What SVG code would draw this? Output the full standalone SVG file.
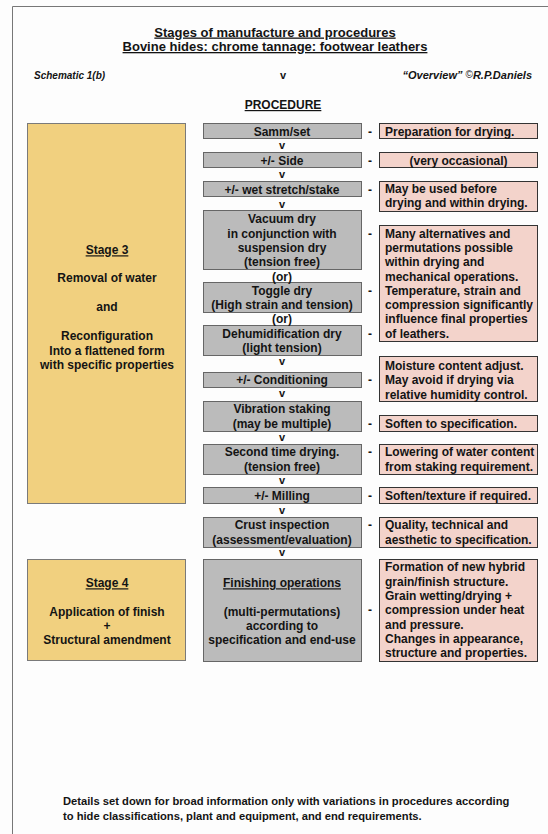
<svg xmlns="http://www.w3.org/2000/svg" width="548" height="834" viewBox="0 0 548 834">
<style>
text{font-family:"Liberation Sans",Arial,sans-serif;font-weight:bold;fill:#141414;font-size:12px}
.c{text-anchor:middle}
.g{fill:#bbbbbb;stroke:#666;stroke-width:1}
.p{fill:#f3d3cb;stroke:#333;stroke-width:1}
.y{fill:#f1d07f;stroke:#7a7a7a;stroke-width:1}
.u{text-decoration:underline}
.v{font-size:11px;text-anchor:middle}
.d{text-anchor:middle}
.h{font-size:10px;font-style:italic}
.f{font-size:11.2px}
</style>
<rect width="548" height="834" fill="#fdfdfd"/>
<path d="M12.5 834V6.5H548" fill="none" stroke="#777" stroke-width="1"/>

<g id="header">
<text class="c u" x="275" y="36.5" style="font-size:13px">Stages of manufacture and procedures</text>
<text class="c u" x="275" y="51" style="font-size:13px">Bovine hides: chrome tannage: footwear leathers</text>
<text class="h" x="34" y="78.5">Schematic 1(b)</text>
<text class="h" x="532" y="78.5" text-anchor="end" style="font-size:11px">“Overview”  <tspan style="font-weight:normal;font-style:normal;font-size:10px" dy="-1">©</tspan><tspan dy="1">R.P.Daniels</tspan></text>
<text class="c u" x="283" y="109">PROCEDURE</text>
</g>

<g id="stage3">
<rect class="y" x="27.5" y="123.5" width="158" height="380"/>
<text class="c u" x="107" y="254.3">Stage 3</text>
<text class="c" x="107" y="282.3">Removal of water</text>
<text class="c" x="107" y="311.3">and</text>
<text class="c" x="107" y="340.3">Reconfiguration</text>
<text class="c" x="107" y="354.6">Into a flattened form</text>
<text class="c" x="107" y="368.9">with specific properties</text>
</g>

<g id="stage4">
<rect class="y" x="27.5" y="559.5" width="158" height="101"/>
<text class="c u" x="107" y="587.3">Stage 4</text>
<text class="c" x="107" y="615.7">Application of finish</text>
<text class="c" x="107" y="630">+</text>
<text class="c" x="107" y="644.3">Structural amendment</text>
</g>

<g id="samm">
<rect class="g" x="203.5" y="123.5" width="158" height="15"/>
<text class="c" x="282" y="135.5">Samm/set</text>
</g>
<g id="samm-note">
<rect class="p" x="379.5" y="123.5" width="158" height="15"/>
<text x="385" y="135.5">Preparation for drying.</text>
</g>

<g id="side">
<rect class="g" x="203.5" y="152.5" width="158" height="15"/>
<text class="c" x="282" y="164.5">+/- Side</text>
</g>
<g id="side-note">
<rect class="p" x="379.5" y="152.5" width="158" height="15"/>
<text class="c" x="458.5" y="164.5">(very occasional)</text>
</g>

<g id="wet">
<rect class="g" x="203.5" y="181.5" width="158" height="15"/>
<text class="c" x="282" y="193.5">+/- wet stretch/stake</text>
</g>
<g id="wet-note">
<rect class="p" x="379.5" y="181.5" width="158" height="30"/>
<text x="385" y="192.5">May be used before</text>
<text x="385" y="206.5">drying and within drying.</text>
</g>

<g id="vacuum">
<rect class="g" x="203.5" y="210.5" width="158" height="59"/>
<text class="c" x="282" y="223.3">Vacuum dry</text>
<text class="c" x="282" y="237.6">in conjunction with</text>
<text class="c" x="282" y="251.9">suspension dry</text>
<text class="c" x="282" y="266.2">(tension free)</text>
</g>
<g id="toggle">
<rect class="g" x="203.5" y="282.5" width="158" height="30"/>
<text class="c" x="282" y="294.8">Toggle dry</text>
<text class="c" x="282" y="309.1">(High strain and tension)</text>
</g>
<g id="dehum">
<rect class="g" x="203.5" y="325.5" width="158" height="30"/>
<text class="c" x="282" y="337.7">Dehumidification dry</text>
<text class="c" x="282" y="352">(light tension)</text>
</g>
<g id="drying-note">
<rect class="p" x="379.5" y="225.5" width="158" height="116"/>
<text x="385" y="237.6">Many alternatives and</text>
<text x="385" y="251.9">permutations possible</text>
<text x="385" y="266.2">within drying and</text>
<text x="385" y="280.5">mechanical operations.</text>
<text x="385" y="294.8">Temperature, strain and</text>
<text x="385" y="309.1">compression significantly</text>
<text x="385" y="323.4">influence final properties</text>
<text x="385" y="337.7">of leathers.</text>
</g>

<g id="conditioning">
<rect class="g" x="203.5" y="372.5" width="158" height="15"/>
<text class="c" x="282" y="384.3">+/- Conditioning</text>
</g>
<g id="conditioning-note">
<rect class="p" x="379.5" y="356.5" width="158" height="45"/>
<text x="385" y="370">Moisture content adjust.</text>
<text x="385" y="384.3">May avoid if drying via</text>
<text x="385" y="398.6">relative humidity control.</text>
</g>

<g id="vibration">
<rect class="g" x="203.5" y="401.5" width="158" height="30"/>
<text class="c" x="282" y="413.3">Vibration staking</text>
<text class="c" x="282" y="427.6">(may be multiple)</text>
</g>
<g id="vibration-note">
<rect class="p" x="379.5" y="415.5" width="158" height="16"/>
<text x="385" y="427.6">Soften to specification.</text>
</g>

<g id="second">
<rect class="g" x="203.5" y="444.5" width="158" height="30"/>
<text class="c" x="282" y="456.3">Second time drying.</text>
<text class="c" x="282" y="470.6">(tension free)</text>
</g>
<g id="second-note">
<rect class="p" x="379.5" y="444.5" width="158" height="30"/>
<text x="385" y="456.3">Lowering of water content</text>
<text x="385" y="470.6">from staking requirement.</text>
</g>

<g id="milling">
<rect class="g" x="203.5" y="487.5" width="158" height="16"/>
<text class="c" x="282" y="499.8">+/- Milling</text>
</g>
<g id="milling-note">
<rect class="p" x="379.5" y="487.5" width="158" height="16"/>
<text x="385" y="499.8">Soften/texture if required.</text>
</g>

<g id="crust">
<rect class="g" x="203.5" y="517.5" width="158" height="30"/>
<text class="c" x="282" y="529.3">Crust inspection</text>
<text class="c" x="282" y="543.6">(assessment/evaluation)</text>
</g>
<g id="crust-note">
<rect class="p" x="379.5" y="517.5" width="158" height="30"/>
<text x="385" y="529.3">Quality, technical and</text>
<text x="385" y="543.6">aesthetic to specification.</text>
</g>

<g id="finishing">
<rect class="g" x="203.5" y="559.5" width="158" height="102"/>
<text class="c u" x="282" y="587.3">Finishing operations</text>
<text class="c" x="282" y="615.7">(multi-permutations)</text>
<text class="c" x="282" y="630">according to</text>
<text class="c" x="282" y="644.3">specification and end-use</text>
</g>
<g id="finishing-note">
<rect class="p" x="379.5" y="559.5" width="158" height="102"/>
<text x="385" y="571.3">Formation of new hybrid</text>
<text x="385" y="585.6">grain/finish structure.</text>
<text x="385" y="600">Grain wetting/drying +</text>
<text x="385" y="614.3">compression under heat</text>
<text x="385" y="628.6">and pressure.</text>
<text x="385" y="643">Changes in appearance,</text>
<text x="385" y="657.3">structure and properties.</text>
</g>

<g id="connectors">
<text class="v" x="283" y="79">v</text>
<text class="v" x="282" y="149">v</text>
<text class="v" x="282" y="178">v</text>
<text class="v" x="282" y="207.5">v</text>
<text class="c" x="282" y="280.5">(or)</text>
<text class="c" x="282" y="323.4">(or)</text>
<text class="v" x="282" y="365">v</text>
<text class="v" x="282" y="397">v</text>
<text class="v" x="282" y="441">v</text>
<text class="v" x="282" y="484">v</text>
<text class="v" x="282" y="514">v</text>
<text class="v" x="282" y="556">v</text>
<text class="d" x="370" y="135.5">-</text>
<text class="d" x="370" y="164.5">-</text>
<text class="d" x="370" y="193.5">-</text>
<text class="d" x="370" y="237.6">-</text>
<text class="d" x="370" y="294.8">-</text>
<text class="d" x="370" y="337.7">-</text>
<text class="d" x="370" y="384.3">-</text>
<text class="d" x="370" y="427.6">-</text>
<text class="d" x="370" y="456.3">-</text>
<text class="d" x="370" y="499.8">-</text>
<text class="d" x="370" y="529.3">-</text>
<text class="d" x="370" y="614.3">-</text>
</g>

<g id="footer">
<text class="f" x="63" y="804.5">Details set down for broad information only with variations in procedures according</text>
<text class="f" x="63" y="819.5">to hide classifications, plant and equipment, and end requirements.</text>
</g>
</svg>
